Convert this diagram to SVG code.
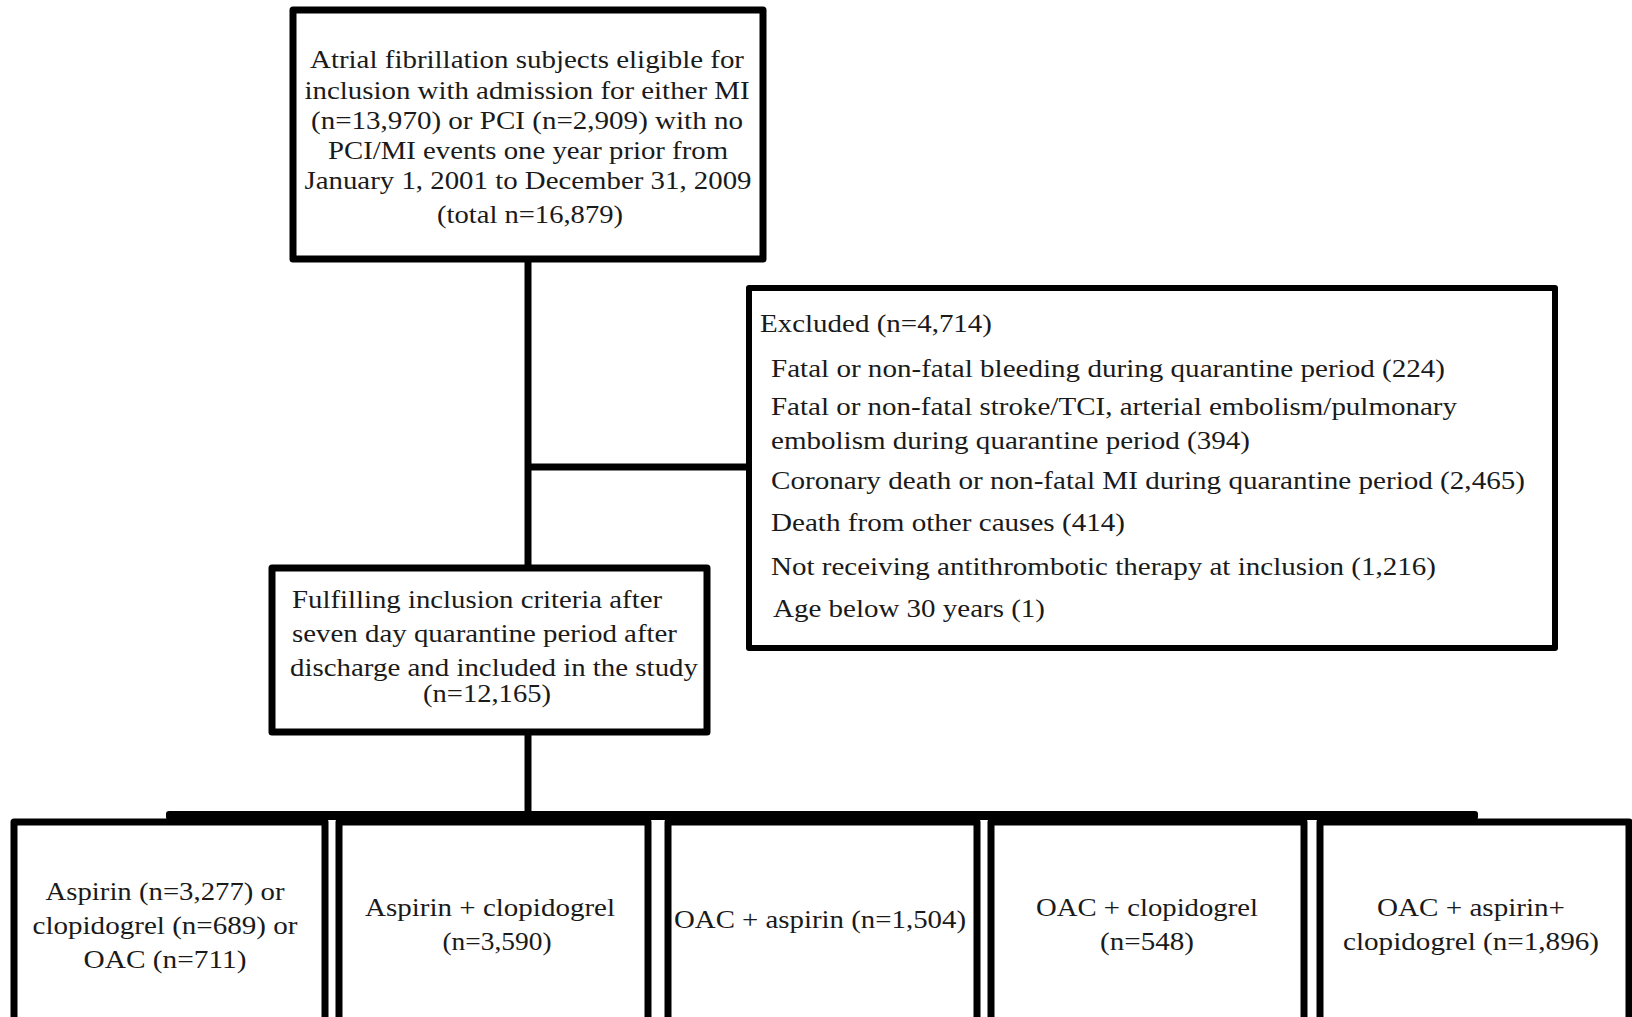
<svg xmlns="http://www.w3.org/2000/svg" width="1632" height="1017" viewBox="0 0 1632 1017">
<style>
.box{fill:#fff;stroke:#000;stroke-width:7;stroke-linejoin:round}
.ln{stroke:#000;stroke-width:7;fill:none}
text{font-family:"Liberation Serif","Times New Roman",serif;font-size:26px;fill:#1a1a1a}
.c{text-anchor:middle}
</style>
<rect width="1632" height="1017" fill="#fff"/>
<g id="connectors">
<line class="ln" x1="528" y1="259" x2="528" y2="568"/>
<line class="ln" x1="528" y1="467" x2="749" y2="467"/>
<line class="ln" x1="528" y1="732" x2="528" y2="814"/>
<rect x="166" y="811" width="1312" height="9" rx="3" fill="#000"/>
</g>
<g id="n-eligible">
<rect class="box" x="293" y="10" width="470" height="249"/>
<text class="c" x="527" y="68" textLength="434" lengthAdjust="spacingAndGlyphs">Atrial fibrillation subjects eligible for</text>
<text class="c" x="527" y="99" textLength="445" lengthAdjust="spacingAndGlyphs">inclusion with admission for either MI</text>
<text class="c" x="527" y="129" textLength="432" lengthAdjust="spacingAndGlyphs">(n=13,970) or PCI (n=2,909) with no</text>
<text class="c" x="528" y="159" textLength="400" lengthAdjust="spacingAndGlyphs">PCI/MI events one year prior from</text>
<text class="c" x="528" y="189" textLength="447" lengthAdjust="spacingAndGlyphs">January 1, 2001 to December 31, 2009</text>
<text class="c" x="530" y="223" textLength="186" lengthAdjust="spacingAndGlyphs">(total n=16,879)</text>
</g>
<g id="n-excluded">
<rect class="box" x="749" y="288" width="806" height="360" style="stroke-width:6"/>
<text x="760" y="332" textLength="232" lengthAdjust="spacingAndGlyphs">Excluded (n=4,714)</text>
<text x="771" y="377" textLength="674" lengthAdjust="spacingAndGlyphs">Fatal or non-fatal bleeding during quarantine period (224)</text>
<text x="771" y="415" textLength="686" lengthAdjust="spacingAndGlyphs">Fatal or non-fatal stroke/TCI, arterial embolism/pulmonary</text>
<text x="771" y="449" textLength="479" lengthAdjust="spacingAndGlyphs">embolism during quarantine period (394)</text>
<text x="771" y="489" textLength="754" lengthAdjust="spacingAndGlyphs">Coronary death or non-fatal MI during quarantine period (2,465)</text>
<text x="771" y="531" textLength="354" lengthAdjust="spacingAndGlyphs">Death from other causes (414)</text>
<text x="771" y="575" textLength="665" lengthAdjust="spacingAndGlyphs">Not receiving antithrombotic therapy at inclusion (1,216)</text>
<text x="773" y="617" textLength="272" lengthAdjust="spacingAndGlyphs">Age below 30 years (1)</text>
</g>
<g id="n-included">
<rect class="box" x="272" y="568" width="435" height="164"/>
<text x="292" y="608" textLength="370" lengthAdjust="spacingAndGlyphs">Fulfilling inclusion criteria after</text>
<text x="292" y="642" textLength="385" lengthAdjust="spacingAndGlyphs">seven day quarantine period after</text>
<text x="290" y="676" textLength="408" lengthAdjust="spacingAndGlyphs">discharge and included in the study</text>
<text class="c" x="487" y="702" textLength="128" lengthAdjust="spacingAndGlyphs">(n=12,165)</text>
</g>
<g id="n-g1">
<rect class="box" x="14" y="822" width="311" height="220"/>
<text class="c" x="165" y="900" textLength="239" lengthAdjust="spacingAndGlyphs">Aspirin (n=3,277) or</text>
<text class="c" x="165" y="934" textLength="265" lengthAdjust="spacingAndGlyphs">clopidogrel (n=689) or</text>
<text class="c" x="165" y="968" textLength="163" lengthAdjust="spacingAndGlyphs">OAC (n=711)</text>
</g>
<g id="n-g2">
<rect class="box" x="339" y="822" width="309" height="220"/>
<text class="c" x="490" y="916" textLength="250" lengthAdjust="spacingAndGlyphs">Aspirin + clopidogrel</text>
<text class="c" x="497" y="950" textLength="109" lengthAdjust="spacingAndGlyphs">(n=3,590)</text>
</g>
<g id="n-g3">
<rect class="box" x="668" y="822" width="309" height="220"/>
<text x="674" y="928" textLength="292" lengthAdjust="spacingAndGlyphs">OAC + aspirin (n=1,504)</text>
</g>
<g id="n-g4">
<rect class="box" x="991" y="822" width="313" height="220"/>
<text class="c" x="1147" y="916" textLength="222" lengthAdjust="spacingAndGlyphs">OAC + clopidogrel</text>
<text class="c" x="1147" y="950" textLength="94" lengthAdjust="spacingAndGlyphs">(n=548)</text>
</g>
<g id="n-g5">
<rect class="box" x="1320" y="822" width="309" height="220"/>
<text class="c" x="1471" y="916" textLength="188" lengthAdjust="spacingAndGlyphs">OAC + aspirin+</text>
<text class="c" x="1471" y="950" textLength="256" lengthAdjust="spacingAndGlyphs">clopidogrel (n=1,896)</text>
</g>
</svg>
